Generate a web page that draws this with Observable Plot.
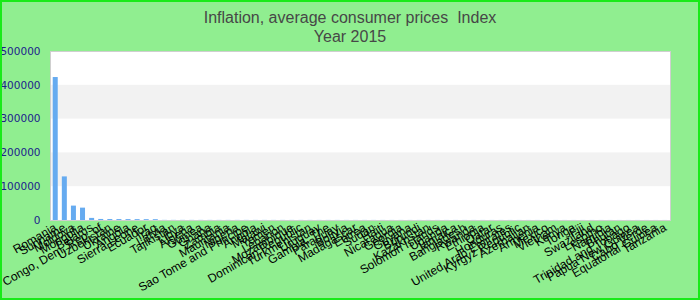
<!DOCTYPE html>
<html>
<head>
<meta charset="utf-8">
<script src="https://cdn.jsdelivr.net/npm/d3@7"></script>
<script src="https://cdn.jsdelivr.net/npm/@observablehq/plot@0.6"></script>
<style>
  html, body { margin: 0; padding: 0; background: #90ee90; }
  #wrap { position: relative; width: 700px; height: 300px; background: #90ee90; overflow: hidden; }
  #title { height: 44px; box-sizing: border-box; padding-top: 9px; text-align: center;
           font-family: "Liberation Sans", Arial, sans-serif; font-size: 16px; line-height: 18.5px; color: #474747; }
  #border { position: absolute; left: 0; top: 0; width: 700px; height: 300px; box-sizing: border-box;
            border: 2px solid #19ea19; pointer-events: none; }
  svg { display: block; }
</style>
</head>
<body>
<div id="wrap">
  <div id="title"><div>Inflation, average consumer prices&nbsp; Index</div><div>Year 2015</div></div>
  <div id="chart"></div>
  <div id="border"></div>
</div>
<script>
const countries = [
  "Romania", "Suriname", "Moldova", "Mongolia", "Belarus", "Congo, Dem. Rep. of", "Uzbekistan", "Ukraine",
  "Angola", "Sierra Leone", "Ecuador", "Iraq", "Latvia", "Tajikistan", "Libya", "Algeria",
  "Guinea", "Ghana", "Zambia", "Mauritania", "Nigeria", "Sao Tome and Principe", "Angola ", "Malawi",
  "Yemen", "Lebanon", "Mozambique", "Dominican Republic", "Turkmenistan", "Uruguay", "Gambia, The", "Paraguay",
  "Bolivia", "Madagascar", "Eritrea", "Sudan", "Haiti", "Nicaragua", "Georgia", "Guyana",
  "Burundi", "Kazakhstan", "Solomon Islands", "Uganda", "Jamaica", "Bangladesh", "Rwanda", "Ethiopia",
  "Qatar", "Honduras", "United Arab Emirates", "Kyrgyz Republic", "Azerbaijan", "Armenia", "Mexico", "Vietnam",
  "Kenya", "Tonga", "Fiji", "Swaziland", "Lesotho", "Namibia", "Bhutan", "Trinidad and Tobago",
  "Papua New Guinea", "Cabo Verde", "Equatorial Guinea", "Tanzania"
];
const values = [
  423000, 129000, 42600, 36600, 6200, 3100, 2900, 2800,
  2700, 2600, 2500, 2400, 380, 350, 340, 330,
  320, 310, 300, 295, 290, 285, 280, 275,
  270, 265, 260, 255, 250, 245, 240, 235,
  230, 225, 220, 215, 210, 205, 200, 198,
  195, 192, 190, 188, 185, 182, 180, 178,
  175, 172, 170, 168, 165, 162, 160, 158,
  155, 152, 150, 148, 145, 142, 140, 138,
  135, 132, 130, 128
];
const yTicks = [0, 100000, 200000, 300000, 400000, 500000];
const bandLow = [100000, 300000];
const bandHigh = [200000, 400000];

const data = countries.map((c, i) => ({country: c, value: values[i]}));
const bands = bandLow.map((lo, i) => ({lo, hi: bandHigh[i]}));

const chart = Plot.plot({
  width: 700,
  height: 256,
  marginTop: 7,
  marginBottom: 80,
  marginLeft: 50,
  marginRight: 30,
  style: {background: "transparent", fontFamily: "'Liberation Sans', Arial, sans-serif", fontSize: "12px", color: "black", overflow: "visible"},
  x: {domain: countries, paddingInner: 0.45, paddingOuter: 0.3, round: false},
  y: {domain: [0, 500000]},
  marks: [
    Plot.frame({fill: "white", stroke: null}),
    Plot.rect(bands, {y1: "lo", y2: "hi", fill: "#f2f2f2"}),
    Plot.barY(data, {x: "country", y: "value", fill: "#66abf0"}),
    Plot.frame({stroke: "#cfcfcf"}),
    Plot.axisY({ticks: yTicks, tickSize: 0, tickPadding: 10, tickFormat: d => String(d), label: null,
                fill: "#1c1c8c", fontFamily: "'DejaVu Sans', sans-serif", fontSize: 10.5}),
    Plot.axisX({tickRotate: -30, tickSize: 0, tickPadding: 6, label: null, fill: "black", fontSize: 12,
                tickFormat: d => d.trim()})
  ]
});
document.getElementById("chart").appendChild(chart);
</script>
</body>
</html>
